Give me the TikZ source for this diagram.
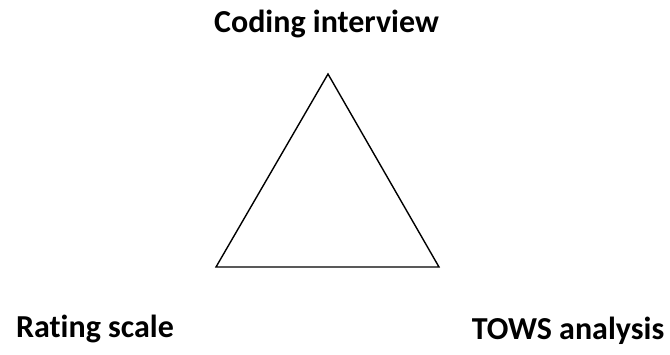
\documentclass[tikz,border=0pt]{standalone}
\usepackage{fontspec}
\setmainfont{Carlito}[Ligatures=NoCommon]
\usepackage{tikz}
\usetikzlibrary{positioning, calc}
\definecolor{ink}{HTML}{000000}

\tikzset{
  corner/.style={font=\bfseries\fontsize{32}{36}\selectfont, text=ink, anchor=base, inner sep=0pt},
  edge/.style={draw=ink, line width=1.4pt, line join=miter}
}

\begin{document}
\begin{tikzpicture}[x=1pt, y=-1pt]
  \useasboundingbox (0,0) rectangle (670,354);
  % triangle corners
  \coordinate (top) at (328,74);
  \coordinate (left) at (216,267);
  \coordinate (right) at (439,267);
  \draw[edge] (top) -- (left) -- (right) -- cycle;
  % labels
  \node[corner] (coding) at (326.5,32) {Coding interview};
  \node[corner] (rating) at (95,337) {Rating scale};
  \node[corner] (tows) at (568,339) {TOWS analysis};
\end{tikzpicture}
\end{document}
